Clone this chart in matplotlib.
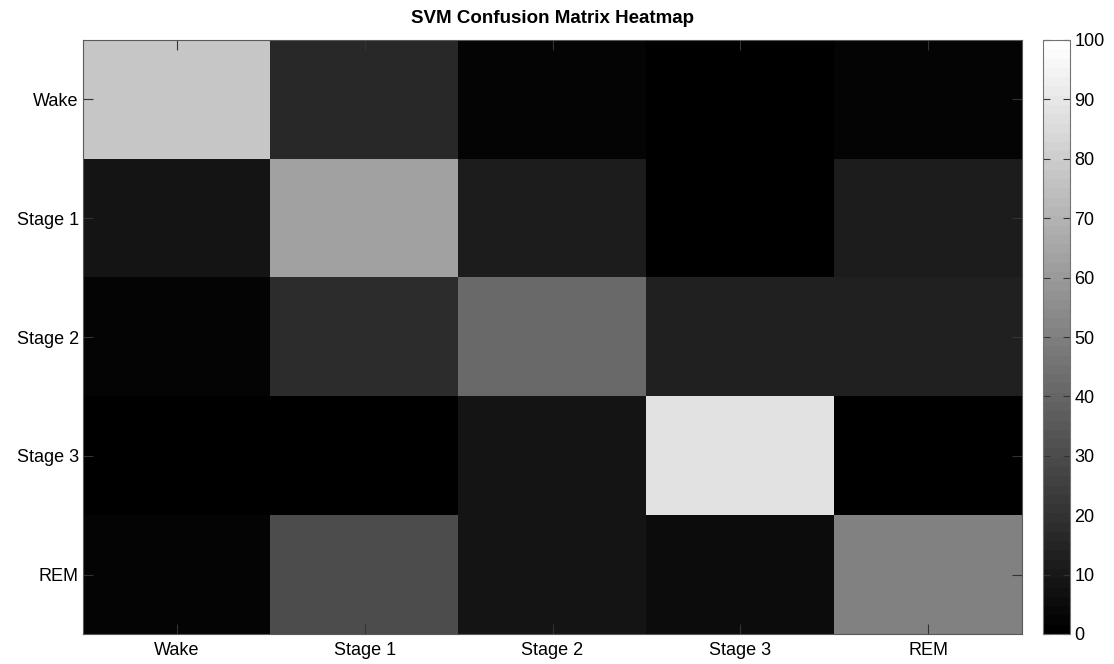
import numpy as np
import matplotlib
matplotlib.use("Agg")
import matplotlib.pyplot as plt

plt.rcParams['font.family'] = ['Liberation Sans', 'DejaVu Sans']

classes = ["Wake", "Stage 1", "Stage 2", "Stage 3", "REM"]

# rows: true stage, columns: predicted stage (percent)
row_wake = [78, 16, 2, 1, 2]
row_stage1 = [9, 63, 12, 1, 12]
row_stage2 = [2, 18, 42, 14, 14]
row_stage3 = [0, 0, 9, 88, 0]
row_rem = [2, 30, 9, 5, 50]

cbar_ticks = [0, 10, 20, 30, 40, 50, 60, 70, 80, 90, 100]

matrix = np.array([row_wake, row_stage1, row_stage2, row_stage3, row_rem], dtype=float)

fig = plt.figure(figsize=(11.14, 6.64), dpi=100)
W, H = 1114, 664
ax = fig.add_axes([83 / W, 1 - 634 / H, (1022 - 83) / W, (634 - 40) / H])
cax = fig.add_axes([1043 / W, 1 - 634 / H, (1070 - 1043) / W, (634 - 40) / H])

cmap = plt.get_cmap('gray', 64)
im = ax.imshow(matrix, cmap=cmap, vmin=0, vmax=100, aspect='auto',
               interpolation='nearest')

fs = 13
ax.set_xticks(range(len(classes)))
ax.set_xticklabels(classes, fontsize=fs)
ax.set_yticks(range(len(classes)))
ax.set_yticklabels(classes, fontsize=fs)
ax.tick_params(direction='in', length=7, width=0.8, top=True, right=True,
               color='0.2', pad=3)
ax.tick_params(axis='x', pad=6)
for s in ax.spines.values():
    s.set_color('0.35')
    s.set_linewidth(0.8)
ax.set_title("SVM Confusion Matrix Heatmap", fontsize=13.5, fontweight='bold', pad=12)

cb = fig.colorbar(im, cax=cax, ticks=cbar_ticks)
cb.ax.tick_params(direction='in', length=5, width=0.8, left=True, right=True,
                  labelsize=fs, color='0.2', pad=3)
cb.outline.set_edgecolor('0.45')
cb.outline.set_linewidth(0.8)

fig.savefig("out.png", dpi=100, facecolor='white')
